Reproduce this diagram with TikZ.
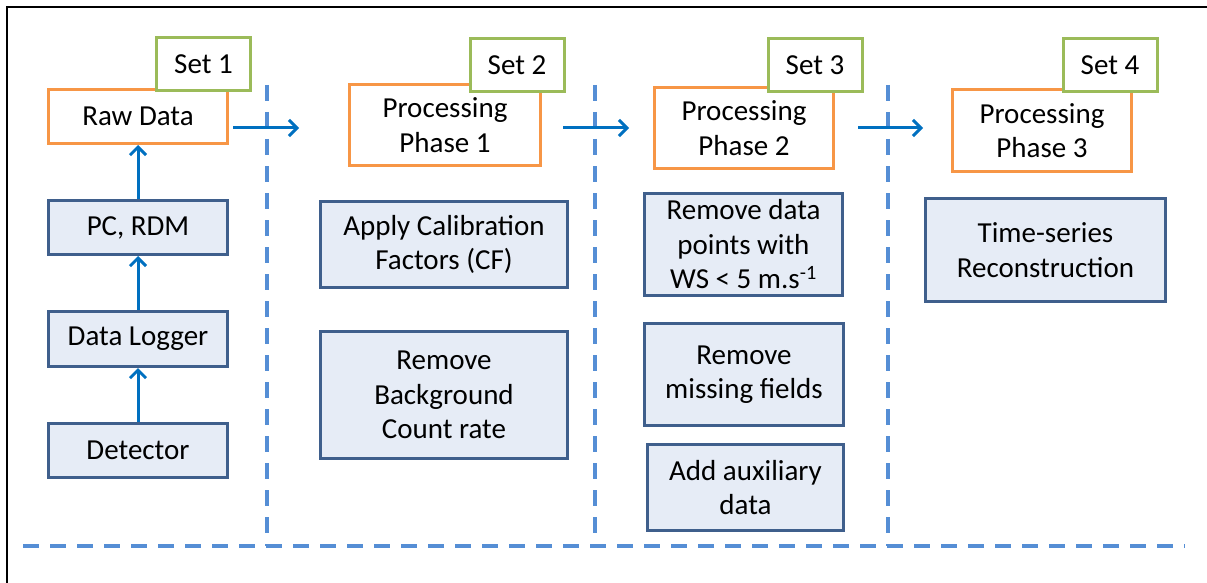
\documentclass[tikz,border=0pt]{standalone}
\usepackage{fontspec}
\setmainfont{Carlito}
\usetikzlibrary{arrows.meta}

\definecolor{setgreen}{HTML}{9BBB59}
\definecolor{phaseorange}{HTML}{F79646}
\definecolor{stepblue}{HTML}{3F5F8C}
\definecolor{stepfill}{HTML}{E6ECF6}
\definecolor{flowblue}{HTML}{0070C0}
\definecolor{divblue}{HTML}{558ED5}

\tikzset{
  setbox/.style={draw=setgreen, line width=3pt, fill=white, inner sep=0pt,
    minimum width=94pt, minimum height=53pt},
  phasebox/.style={draw=phaseorange, line width=3pt, fill=white, inner sep=0pt,
    align=center},
  stepbox/.style={draw=stepblue, line width=3pt, fill=stepfill, inner sep=0pt,
    align=center},
  flow/.style={draw=flowblue, line width=3pt,
    -{Straight Barb[length=8pt,width=16pt]}},
  divider/.style={draw=divblue, line width=4pt, dash pattern=on 16pt off 11pt}
}

\begin{document}
\begin{tikzpicture}[x=1pt, y=-1pt, font=\fontsize{29}{34.5}\selectfont]
  \useasboundingbox (0,0) rectangle (1207,583);
  % frame
  \draw[line width=2pt] (7,583) -- (7,7) -- (1207,7);
  % dividers
  \foreach \x in {267,595,888} {
    \draw[divider] (\x,85) -- (\x,546);
  }
  \draw[divider] (23,546) -- (1185,546);
  % set 1
  \node[phasebox, minimum width=179pt, minimum height=54pt] (raw) at (138,116.5) {Raw Data};
  \node[setbox] (set1) at (203.5,64.5) {Set 1};
  \node[stepbox, minimum width=179pt, minimum height=54pt] (pcrdm) at (138,227.5) {PC, RDM};
  \node[stepbox, minimum width=179pt, minimum height=55pt] (logger) at (138,339) {Data Logger};
  \node[stepbox, minimum width=179pt, minimum height=54pt] (detector) at (138,450.5) {Detector};
  \draw[flow] (detector) -- (logger);
  \draw[flow] (logger) -- (pcrdm);
  \draw[flow] (pcrdm) -- (raw);
  % set 2
  \node[phasebox, minimum width=191pt, minimum height=81pt] (phase1) at (445,125) {Processing\\Phase 1};
  \node[setbox] (set2) at (517,65) {Set 2};
  \node[stepbox, minimum width=247pt, minimum height=86pt] (calib) at (444,244.5) {Apply Calibration\\Factors (CF)};
  \node[stepbox, minimum width=247pt, minimum height=127pt] (backgr) at (444,395) {Remove\\Background\\Count rate};
  % set 3
  \node[phasebox, minimum width=179pt, minimum height=81pt] (phase2) at (744,128) {Processing\\Phase 2};
  \node[setbox] (set3) at (815,65) {Set 3};
  \node[stepbox, minimum width=198pt, minimum height=102pt] (wind) at (743.5,244.5) {Remove data\\points with\\WS < 5 m.s\textsuperscript{-1}};
  \node[stepbox, minimum width=199pt, minimum height=102pt] (missing) at (744,374.5) {Remove\\missing fields};
  \node[stepbox, minimum width=196pt, minimum height=86pt] (aux) at (745.5,487.5) {Add auxiliary\\data};
  % set 4
  \node[phasebox, minimum width=179pt, minimum height=82pt] (phase3) at (1042,130.5) {Processing\\Phase 3};
  \node[setbox] (set4) at (1110,65) {Set 4};
  \node[stepbox, minimum width=240pt, minimum height=103pt] (series) at (1045.5,250) {Time-series\\Reconstruction};
  % flows between sets
  \coordinate (to1) at (299,128);
  \coordinate (to2) at (629,128);
  \coordinate (to3) at (923,128);
  \draw[flow] ([shift={(4pt,-11.5pt)}]raw.east) -- (to1);
  \draw[flow] ([shift={(21pt,-3pt)}]phase1.east) -- (to2);
  \draw[flow] ([shift={(23pt,0pt)}]phase2.east) -- (to3);
\end{tikzpicture}
\end{document}
